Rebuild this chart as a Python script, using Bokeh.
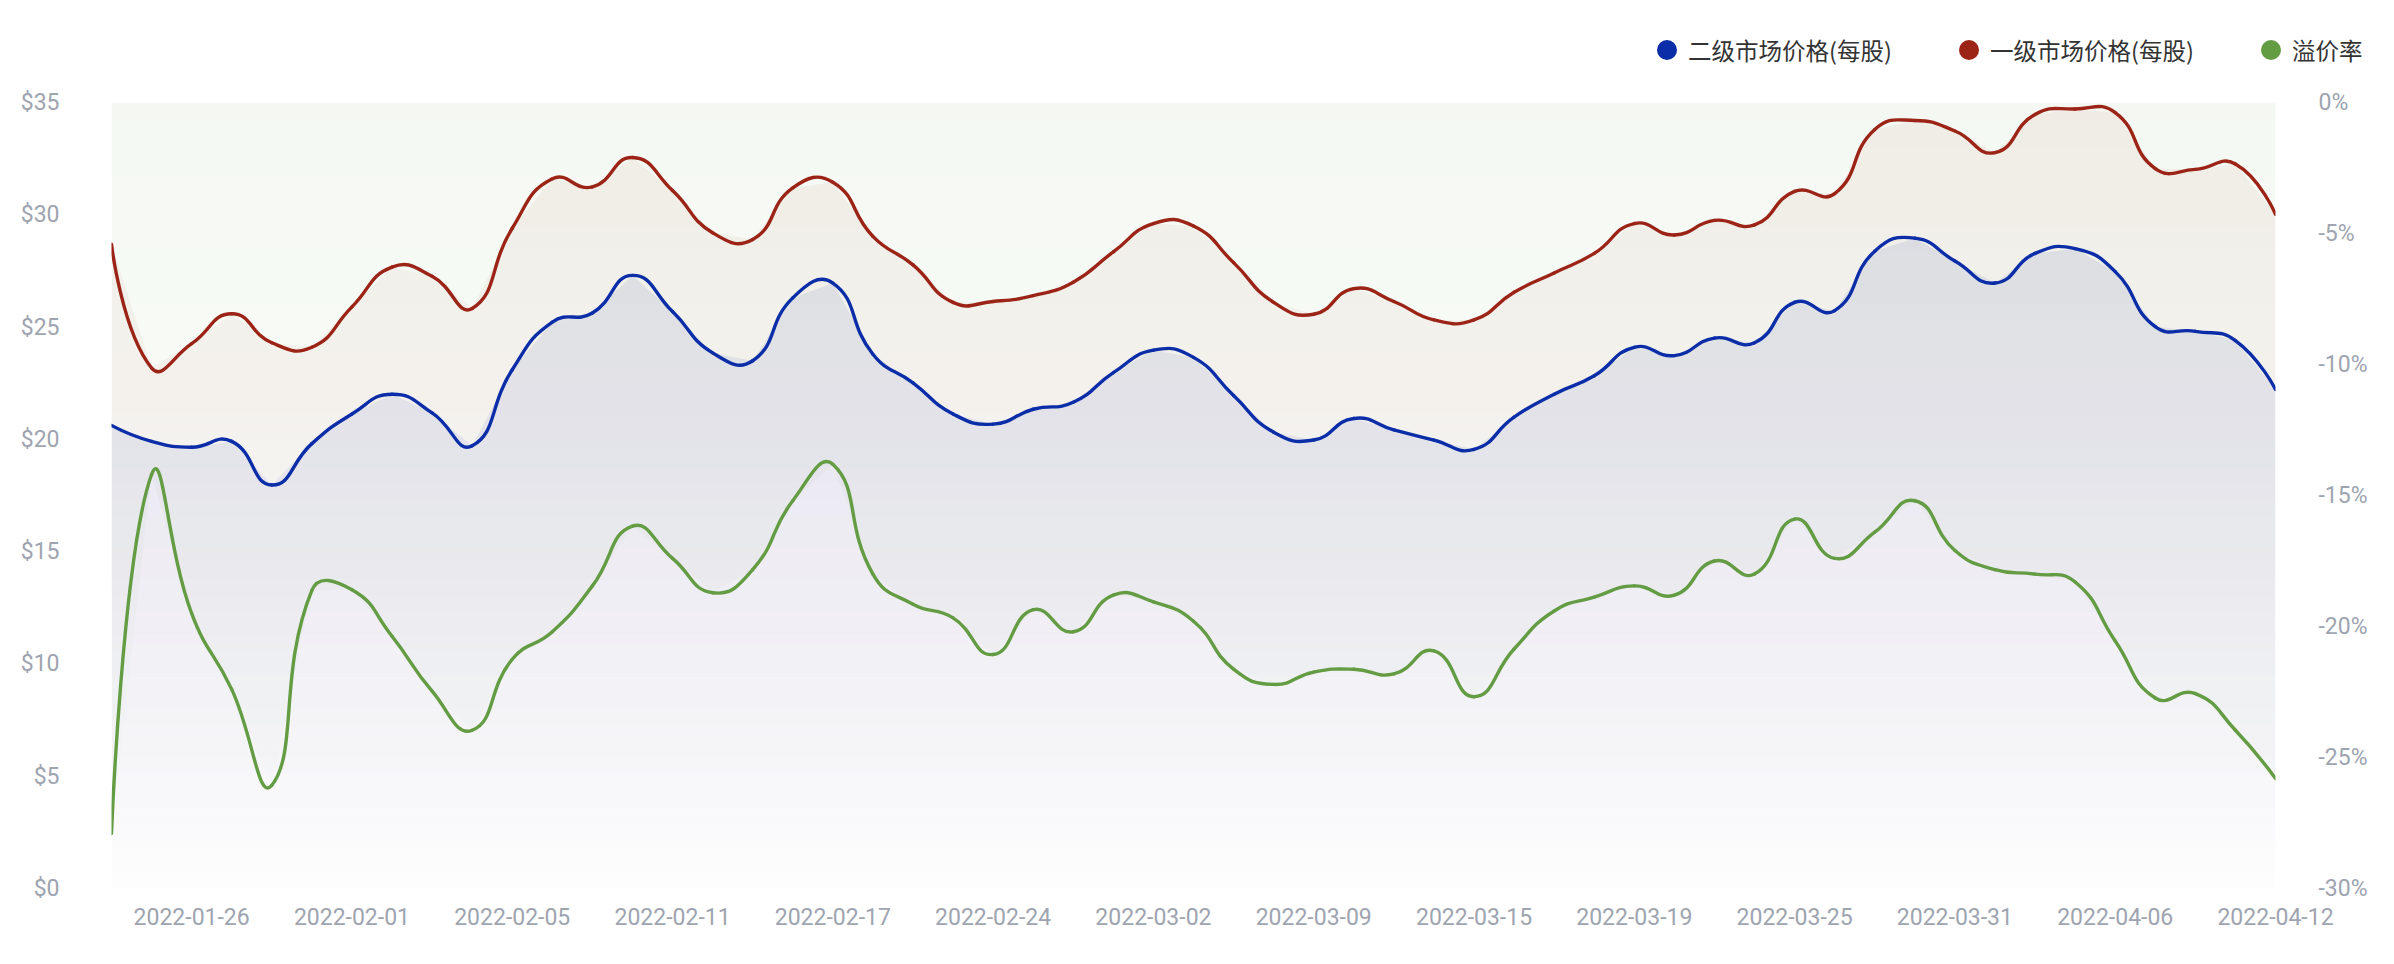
import numpy as np
from bokeh.plotting import figure
from bokeh.layouts import column
from bokeh.models import (Range1d, LinearAxis, FixedTicker, PrintfTickFormatter, Div)
from bokeh.embed import file_html
from bokeh.resources import INLINE

# ---------------- data ----------------
dates = ["2022-01-24", "2022-01-25", "2022-01-26", "2022-01-27", "2022-01-28",
         "2022-01-31", "2022-02-01", "2022-02-02", "2022-02-03", "2022-02-04",
         "2022-02-05", "2022-02-07", "2022-02-08", "2022-02-10", "2022-02-11",
         "2022-02-14", "2022-02-15", "2022-02-16", "2022-02-17", "2022-02-18",
         "2022-02-21", "2022-02-22", "2022-02-24", "2022-02-25", "2022-02-28",
         "2022-03-01", "2022-03-02", "2022-03-03", "2022-03-04", "2022-03-07",
         "2022-03-09", "2022-03-10", "2022-03-11", "2022-03-14", "2022-03-15",
         "2022-03-16", "2022-03-17", "2022-03-18", "2022-03-19", "2022-03-21",
         "2022-03-22", "2022-03-23", "2022-03-25", "2022-03-28", "2022-03-29",
         "2022-03-30", "2022-03-31", "2022-04-01", "2022-04-04", "2022-04-05",
         "2022-04-06", "2022-04-07", "2022-04-08", "2022-04-11", "2022-04-12"]

tick_dates = ["2022-01-26", "2022-02-01", "2022-02-05", "2022-02-11", "2022-02-17",
              "2022-02-24", "2022-03-02", "2022-03-09", "2022-03-15", "2022-03-19",
              "2022-03-25", "2022-03-31", "2022-04-06", "2022-04-12"]

# 二级市场价格(每股)
secondary = [20.62, 19.91, 19.65, 19.91, 17.97, 19.81, 21.13, 22.01, 21.18, 19.71,
             23.10, 25.22, 25.63, 27.30, 25.69, 23.85, 23.50, 26.30, 26.96, 23.79,
             22.52, 21.13, 20.68, 21.34, 21.65, 22.97, 23.97, 23.65, 21.95, 20.32,
             19.97, 20.93, 20.42, 19.97, 19.55, 20.99, 22.01, 22.83, 24.10, 23.73,
             24.51, 24.30, 26.10, 25.73, 28.38, 28.96, 27.94, 26.96, 28.28, 28.49,
             27.47, 25.02, 24.81, 24.40, 22.22]
# 一级市场价格(每股)
primary = [28.69, 23.18, 24.26, 25.59, 24.30, 24.10, 25.90, 27.67, 27.26, 25.83,
           29.40, 31.60, 31.24, 32.55, 31.08, 29.20, 28.90, 31.20, 31.45, 29.04,
           27.77, 26.10, 26.14, 26.40, 27.00, 28.35, 29.61, 29.50, 27.87, 26.10,
           25.57, 26.71, 26.14, 25.32, 25.32, 26.55, 27.41, 28.28, 29.61, 29.10,
           29.75, 29.55, 31.04, 30.94, 33.80, 34.20, 33.73, 32.77, 34.47, 34.71,
           34.55, 32.06, 32.02, 32.26, 30.02]
# 溢价率 (%)
premium = [-27.9, -14.2, -19.5, -22.4, -26.06, -18.62, -18.6, -20.37, -22.47, -23.96,
           -21.25, -20.2, -18.45, -16.17, -17.4, -18.71, -17.83, -15.2, -13.81, -18.0,
           -19.15, -19.67, -21.07, -19.36, -20.2, -18.8, -19.06, -19.8, -21.63, -22.21,
           -21.74, -21.63, -21.81, -20.93, -22.68, -20.86, -19.41, -18.88, -18.45, -18.8,
           -17.5, -18.0, -15.9, -17.4, -16.4, -15.2, -17.1, -17.83, -18.0, -18.3,
           -20.55, -22.73, -22.56, -23.96, -25.8]

price_ticks = [0, 5, 10, 15, 20, 25, 30, 35]
pct_ticks = [-30, -25, -20, -15, -10, -5, 0]
series_names = ["二级市场价格(每股)", "一级市场价格(每股)", "溢价率"]

# ---------------- style ----------------
BLUE = "#0b2da8"
RED = "#9b2417"
GREEN = "#639c43"
AX_COLOR = "#9ea4b0"
TXT_COLOR = "#333333"
FONT = "Roboto"
CJK = "Noto Sans CJK SC"
FS = "23px"
LW = 3.4

W = 2390
LH = 80            # legend strip height
HM = 880           # main figure height
BL, BR, BT, BB = 111, 115, 22, 72
frame_w = W - BL - BR
frame_h = HM - BT - BB

xs = np.arange(len(dates), dtype=float)
PMIN, PMAX = price_ticks[0], price_ticks[-1]
QMIN, QMAX = pct_ticks[0], pct_ticks[-1]

p = figure(width=W, height=HM, x_range=Range1d(xs[0], xs[-1]), y_range=Range1d(PMIN, PMAX),
           output_backend="svg", toolbar_location=None,
           min_border_left=BL, min_border_right=BR, min_border_top=BT, min_border_bottom=BB)
p.extra_y_ranges = {"pct": Range1d(QMIN, QMAX)}
p.outline_line_color = None
p.xgrid.grid_line_color = None
p.ygrid.grid_line_color = None
p.background_fill_color = "white"
p.border_fill_color = "white"


def add_bands(vals, color, a0, lo_val, hi_val, below=True, rng="default", K=40, gamma=0.7):
    vals = np.asarray(vals, float)
    edges = np.linspace(lo_val, hi_val, K + 1)
    # exact crossings of the polyline with every band edge
    xr = list(xs)
    for i in range(len(xs) - 1):
        a, b = vals[i], vals[i + 1]
        for L in edges:
            if (a - L) * (b - L) < 0:
                xr.append(xs[i] + (L - a) / (b - a) * (xs[i + 1] - xs[i]))
    xr = np.unique(np.asarray(xr))
    fr = np.interp(xr, xs, vals)
    for k in range(K):
        lo, hi = edges[k], edges[k + 1]
        frac = ((lo + hi) / 2 - lo_val) / (hi_val - lo_val)
        alpha = a0 * frac ** gamma
        c = np.clip(fr, lo, hi)
        if below:
            y1, y2 = np.full_like(fr, lo), c
        else:
            y1, y2 = c, np.full_like(fr, hi)
        p.varea(x=xr, y1=y1, y2=y2, fill_color=color, fill_alpha=alpha,
                y_range_name=rng)


def smooth_segments(ys, ky, smooth=0.5):
    kx = frame_w / (len(xs) - 1)
    X = xs * kx
    Y = np.asarray(ys, float) * ky
    n = len(X)
    ox, oy, ix, iy = X.copy(), Y.copy(), X.copy(), Y.copy()
    for i in range(1, n - 1):
        vx, vy = X[i + 1] - X[i - 1], Y[i + 1] - Y[i - 1]
        d0 = np.hypot(X[i] - X[i - 1], Y[i] - Y[i - 1])
        d1 = np.hypot(X[i + 1] - X[i], Y[i + 1] - Y[i])
        r = d1 / (d0 + d1)
        ox[i], oy[i] = X[i] + vx * smooth * r, Y[i] + vy * smooth * r
        ix[i], iy[i] = X[i] - vx * smooth * (1 - r), Y[i] - vy * smooth * (1 - r)
    return dict(x0=X[:-1] / kx, y0=Y[:-1] / ky, x1=X[1:] / kx, y1=Y[1:] / ky,
                cx0=ox[:-1] / kx, cy0=oy[:-1] / ky, cx1=ix[1:] / kx, cy1=iy[1:] / ky)


ky_price = frame_h / (PMAX - PMIN)
ky_pct = frame_h / (QMAX - QMIN)

# gradient areas
add_bands(premium, GREEN, 0.066, min(premium), QMAX, below=False, rng="pct")
add_bands(primary, RED, 0.055, PMIN, max(primary))
add_bands(secondary, BLUE, 0.09, PMIN, max(secondary))

# smooth lines
p.bezier(**smooth_segments(primary, ky_price), line_color=RED, line_width=LW, line_cap="round")
p.bezier(**smooth_segments(secondary, ky_price), line_color=BLUE, line_width=LW, line_cap="round")
seg = smooth_segments(np.asarray(premium) - QMIN, ky_pct)
for k in ("y0", "y1", "cy0", "cy1"):
    seg[k] = seg[k] + QMIN
p.bezier(**seg, line_color=GREEN, line_width=LW, line_cap="round", y_range_name="pct")

# axes
ax = p.yaxis[0]
ax.ticker = FixedTicker(ticks=price_ticks)
ax.formatter = PrintfTickFormatter(format="$%d")
ax.major_label_standoff = 46

rax = LinearAxis(y_range_name="pct", ticker=FixedTicker(ticks=pct_ticks),
                 formatter=PrintfTickFormatter(format="%d%%"))
rax.major_label_standoff = 37
p.add_layout(rax, "right")

xax = p.xaxis[0]
tick_pos = [dates.index(d) for d in tick_dates]
xax.ticker = FixedTicker(ticks=tick_pos)
xax.major_label_overrides = {i: dates[i] for i in tick_pos}
xax.major_label_standoff = 13

for a in (ax, rax, xax):
    a.axis_line_color = None
    a.major_tick_line_color = None
    a.minor_tick_line_color = None
    a.major_label_text_color = AX_COLOR
    a.major_label_text_font = FONT
    a.major_label_text_font_size = FS

# ---------------- legend strip (HTML) ----------------
legend_left = [1657, 1959, 2261]   # left edge of each legend marker, px
colors = [BLUE, RED, GREEN]
parts = []
for name, col, left in zip(series_names, colors, legend_left):
    parts.append(
        f'<div style="position:absolute;left:{left}px;top:30px;height:40px;'
        f'display:flex;align-items:center;white-space:nowrap;">'
        f'<span style="display:inline-block;width:20px;height:20px;border-radius:10px;'
        f'background:{col};"></span>'
        f'<span style="margin-left:11px;font-family:\'{CJK}\';font-size:23.5px;'
        f'color:{TXT_COLOR};line-height:normal;">{name}</span></div>')
legend_html = (f'<div style="position:relative;width:{W}px;height:{LH}px;">'
               + "".join(parts) + '</div>')
legend_div = Div(text=legend_html, width=W, height=LH, margin=(0, 0, 0, 0))

layout = column(legend_div, p, spacing=0)
open("out.html", "w").write(file_html(layout, INLINE))
